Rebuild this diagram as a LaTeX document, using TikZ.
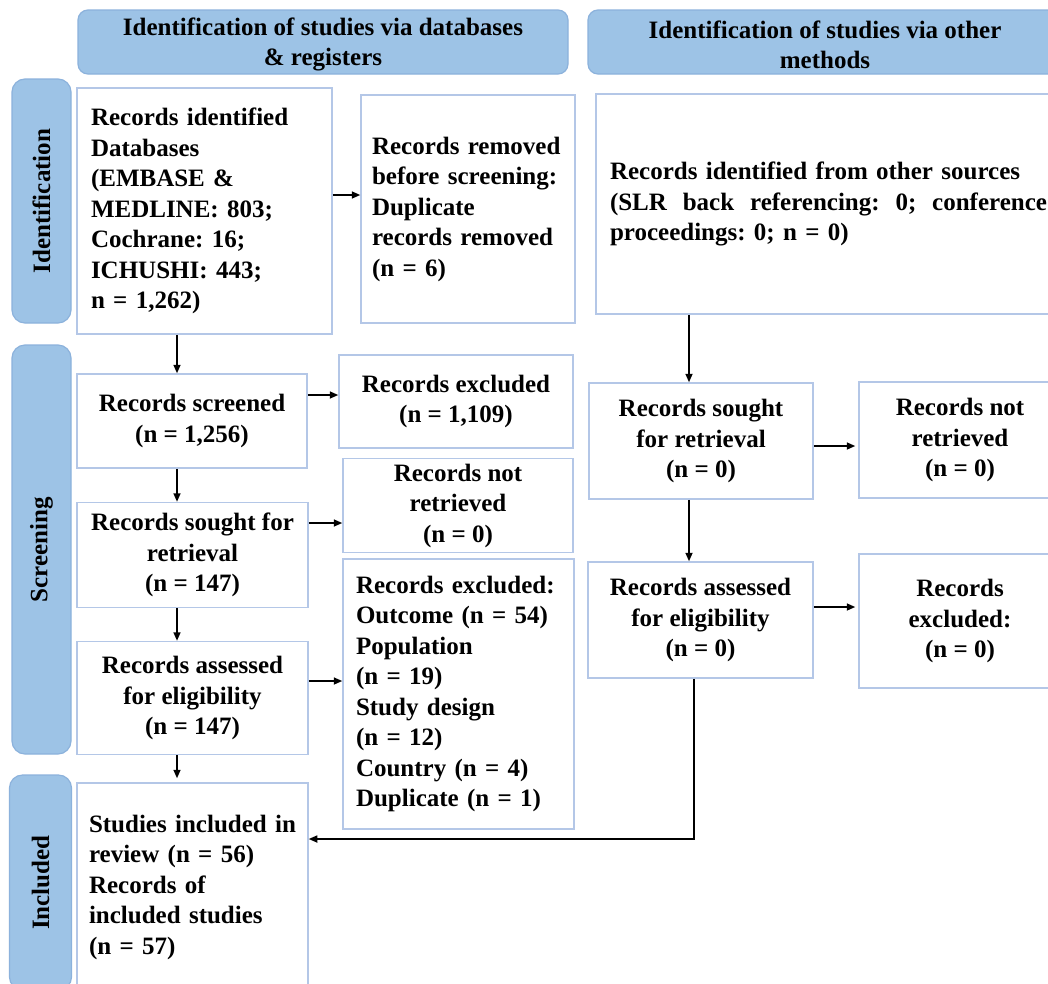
\documentclass[tikz,border=0pt]{standalone}
\usepackage{fontspec}
\setmainfont{Liberation Serif}
\usetikzlibrary{arrows.meta}
\definecolor{hdrfill}{RGB}{157,195,230}
\definecolor{hdrline}{RGB}{140,178,220}
\definecolor{boxline}{RGB}{180,199,231}
\begin{document}
\frenchspacing
\begin{tikzpicture}[x=1pt,y=-1pt,
  font=\fontsize{25}{30.5}\selectfont\bfseries\frenchspacing,
  hdr/.style={draw=hdrline, line width=1.2pt, fill=hdrfill, rounded corners=10pt, inner sep=0pt, align=center},
  side/.style={draw=hdrline, line width=1.2pt, fill=hdrfill, rounded corners=13pt, rotate=90, inner sep=0pt},
  boxc/.style={draw=boxline, line width=1.5pt, fill=white, inner sep=0pt, align=center},
  boxl/.style={draw=boxline, line width=1.5pt, fill=white, inner ysep=0pt, align=left},
  arr/.style={-{Triangle[length=8.5pt,width=7pt]}, line width=1.6pt, black}]
\useasboundingbox (0,0) rectangle (1048,983);
\fill[white] (0,0) rectangle (1048,983);
\clip (0,0) rectangle (1048,983);

% headers
\node[hdr, minimum width=490pt, minimum height=64pt] (H1) at (323,42) {\rule{0pt}{23pt}Identification of studies via databases\\\& registers};
\node[hdr, minimum width=474pt, minimum height=64pt] (H2) at (825,42) {\rule{0pt}{23pt}Identification of studies via other\\methods};

% side labels
\node[side, minimum width=244pt, minimum height=59pt] (S1) at (41.5,201) {Identification};
\node[side, minimum width=409pt, minimum height=59pt] (S2) at (41.5,549.5) {Screening};
\node[side, minimum width=215pt, minimum height=62pt] (S3) at (40.5,882.5) {Included};

% left column
\node[boxl, inner xsep=14pt, text width=227pt, minimum height=246pt] (A1) at (204.5,211)
  {\mbox{Records identified}\\Databases\\(EMBASE \&\\MEDLINE: 803;\\Cochrane: 16;\\ICHUSHI: 443;\\n = 1,262)};
\node[boxc, minimum width=230pt, minimum height=94pt] (A2) at (192,421) {Records screened\\(n = 1,256)};
\node[boxc, minimum width=231pt, minimum height=105pt] (A3) at (192.5,555) {Records sought for\\retrieval\\(n = 147)};
\node[boxc, minimum width=231pt, minimum height=113pt] (A4) at (192.5,698) {Records assessed\\for eligibility\\(n = 147)};
\node[boxl, inner xsep=12pt, text width=207pt, minimum height=208pt] (A5) at (192.5,887)
  {\mbox{Studies included in}\\\mbox{review (n = 56)}\\Records of\\\mbox{included studies}\\(n = 57)};

% second column
\node[boxl, inner xsep=11pt, text width=192pt, minimum height=228pt] (B1) at (468,209)
  {\mbox{Records removed}\\\mbox{before screening:}\\Duplicate\\\mbox{records removed}\\(n = 6)};
\node[boxc, minimum width=234pt, minimum height=93pt] (B2) at (456,401.5) {Records excluded\\(n = 1,109)};
\node[boxc, minimum width=230pt, minimum height=94pt] (B3) at (458,505.5) {Records not\\retrieved\\(n = 0)};
\node[boxl, inner xsep=13pt, text width=205pt, minimum height=270pt] (B4) at (458.5,694)
  {\mbox{Records excluded:}\\\mbox{Outcome (n = 54)}\\Population\\(n = 19)\\Study design\\(n = 12)\\\mbox{Country (n = 4)}\\\mbox{Duplicate (n = 1)}};

% other methods
\node[boxl, inner xsep=14pt, text width=437pt, minimum height=220pt] (C1) at (828.5,204)
  {\mbox{Records identified from other sources}\\\leavevmode\hbox to 437pt{(SLR\hfill back\hfill referencing:\hfill 0;\hfill conference}\\proceedings: 0; n = 0)};
\node[boxc, minimum width=224pt, minimum height=116pt] (D1) at (701,441) {Records sought\\for retrieval\\(n = 0)};
\node[boxc, minimum width=225pt, minimum height=116pt] (D2) at (700.5,620) {Records assessed\\for eligibility\\(n = 0)};
\node[boxc, minimum width=202pt, minimum height=116pt] (E1) at (960,440) {Records not\\retrieved\\(n = 0)};
\node[boxc, minimum width=202pt, minimum height=134pt] (E2) at (960,621) {Records\\excluded:\\(n = 0)};

% guide coordinates
\coordinate (colL) at (177,0);
\coordinate (colR) at (689,0);
\coordinate (colR2) at (694,0);
\coordinate (r1) at (0,195);
\coordinate (r2) at (0,395);
\coordinate (r3) at (0,523);
\coordinate (r4) at (0,681);
\coordinate (r5) at (0,446);
\coordinate (r6) at (0,607);
\coordinate (r7) at (0,839);

% arrows
\draw[arr] (A1.south -| colL) -- (A2.north -| colL);
\draw[arr] (A2.south -| colL) -- (A3.north -| colL);
\draw[arr] (A3.south -| colL) -- (A4.north -| colL);
\draw[arr] (A4.south -| colL) -- ([yshift=4pt]A5.north -| colL);
\draw[arr] (A1.east |- r1) -- (B1.west |- r1);
\draw[arr] (A2.east |- r2) -- (B2.west |- r2);
\draw[arr] (A3.east |- r3) -- (B3.west |- r3);
\draw[arr] (A4.east |- r4) -- (B4.west |- r4);
\draw[arr] (C1.south -| colR) -- (D1.north -| colR);
\draw[arr] (D1.south -| colR) -- (D2.north -| colR);
\draw[arr] (D1.east |- r5) -- ([xshift=-3pt]E1.west |- r5);
\draw[arr] (D2.east |- r6) -- ([xshift=-3pt]E2.west |- r6);
\draw[arr] (D2.south -| colR2) |- (A5.east |- r7);
\end{tikzpicture}
\end{document}
